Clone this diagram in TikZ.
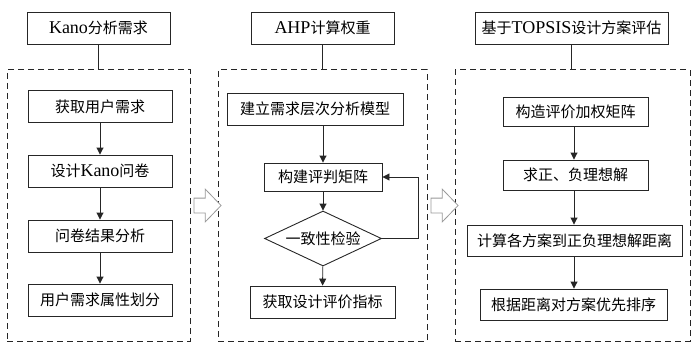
\documentclass[tikz,border=0pt]{standalone}
\usepackage{fontspec}
\setmainfont{Liberation Serif}[Scale=1.2]
\newfontfamily\cjk{Noto Sans CJK SC}
\usetikzlibrary{shapes.geometric,shapes.arrows,arrows.meta,calc}
\tikzset{
  every node/.style={font=\fontsize{15}{16}\selectfont},
  stepbox/.style={draw=black!85, line width=0.9pt, inner sep=0pt, minimum height=32pt},
  groupbox/.style={draw=black!85, line width=1pt, dash pattern=on 6pt off 4pt, inner sep=0pt},
  decide/.style={diamond, draw=black!85, line width=0.9pt, inner sep=0pt, aspect=2.1, minimum width=117pt, minimum height=55pt},
  flow/.style={draw=black!85, line width=0.9pt, -{Triangle[length=7pt,width=7pt]}},
  link/.style={draw=black!85, line width=0.9pt},
  hollow/.style={single arrow, draw=black!40, fill=white, line width=0.8pt, inner sep=7pt, minimum height=27pt, single arrow head extend=9pt, single arrow tip angle=92},
}
\begin{document}
\begin{tikzpicture}[x=1pt,y=-1pt]
\useasboundingbox (0,0) rectangle (695,342);
% group boxes
\node[groupbox, minimum width=183pt, minimum height=271pt] (L) at (98.5,205.5) {};
\node[groupbox, minimum width=209pt, minimum height=271pt] (M) at (322.5,205.5) {};
\node[groupbox, minimum width=235pt, minimum height=271pt] (R) at (572.5,205.5) {};
% left column
\node[stepbox, minimum width=143pt] (k0) at (98.5,28) {Kano{\cjk 分析需求}};
\node[stepbox, minimum width=144pt] (k1) at (100,106.5) {\cjk 获取用户需求};
\node[stepbox, minimum width=144pt] (k2) at (100,171) {{\cjk 设计}Kano{\cjk 问卷}};
\node[stepbox, minimum width=144pt] (k3) at (100,236) {\cjk 问卷结果分析};
\node[stepbox, minimum width=144pt] (k4) at (100,300) {\cjk 用户需求属性划分};
\draw[link] (k0.south) -- (k0.south |- L.north);
\draw[flow] (k1) -- (k2);
\draw[flow] (k2) -- (k3);
\draw[flow] (k3) -- (k4);
% middle column
\node[stepbox, minimum width=143pt] (a0) at (322.5,28) {AHP{\cjk 计算权重}};
\node[stepbox, minimum width=176pt] (a1) at (315,109) {\cjk 建立需求层次分析模型};
\node[stepbox, minimum width=118pt, minimum height=28pt] (a2) at (323,177) {\cjk 构建评判矩阵};
\node[decide] (d) at (323,238.5) {\cjk 一致性检验};
\node[stepbox, minimum width=145pt] (a3) at (322.5,302) {\cjk 获取设计评价指标};
\draw[link] (a0.south) -- (a0.south |- M.north);
\draw[flow] (a1.south -| a2.north) -- (a2.north);
\draw[flow] (a2) -- (d);
\draw[flow] (d) -- (a3);
\draw[flow] (d.east) -- (418,238.5) |- (a2.east);
% right column
\node[stepbox, minimum width=193pt] (t0) at (571.5,28) {{\cjk 基于}TOPSIS{\cjk 设计方案评估}};
\node[stepbox, minimum width=145pt, minimum height=29pt] (t1) at (575.5,111.5) {\cjk 构造评价加权矩阵};
\node[stepbox, minimum width=145pt, minimum height=30pt] (t2) at (575.5,175) {\cjk 求正、负理想解};
\node[stepbox, minimum width=215pt, minimum height=31pt] (t3) at (574.5,240.5) {\cjk 计算各方案到正负理想解距离};
\node[stepbox, minimum width=187pt, minimum height=31pt] (t4) at (573.5,304.5) {\cjk 根据距离对方案优先排序};
\draw[link] (t0.south) -- (t0.south |- R.north);
\draw[flow] (t1.south -| 574,0) -- (t2.north -| 574,0);
\draw[flow] (t2.south -| 574,0) -- (t3.north -| 574,0);
\draw[flow] (t3.south -| 574,0) -- (t4.north -| 574,0);
% hollow arrows between groups
\node[hollow] (h1) at ($(L.east)!0.5!(M.west)$) {};
\node[hollow] (h2) at ($(M.east)!0.5!(R.west)$) {};
\end{tikzpicture}
\end{document}
